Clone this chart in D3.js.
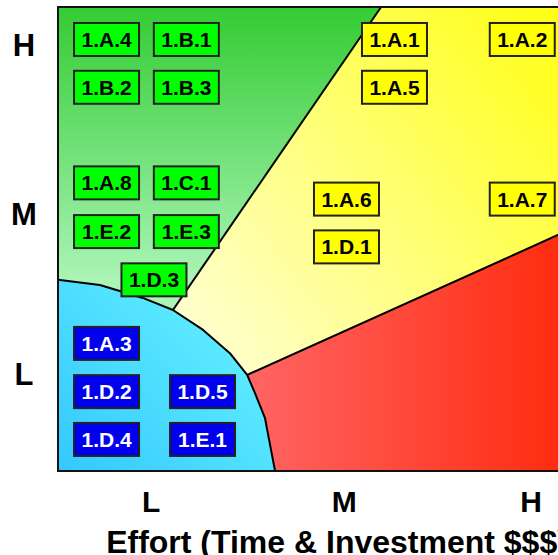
<!DOCTYPE html>
<html>
<head>
<meta charset="utf-8">
<script src="https://cdn.jsdelivr.net/npm/d3@7"></script>
<style>
  html, body { margin: 0; padding: 0; background: #fff; }
  svg { display: block; }
  text { font-family: "Liberation Sans", Arial, sans-serif; font-weight: bold; }
</style>
</head>
<body>
<svg id="chart" width="558" height="555"></svg>
<script>
// Axis categories and where they sit on the 0-100 effort / impact scales
const xTickLabels = ["L", "M", "H"];
const xTickValues = [16.7, 51.3, 84.8];
const yTickLabels = ["H", "M", "L"];
const yTickValues = [91.9, 55.4, 21.0];
const xTitle = "Effort (Time & Investment $$$)";

// Items in the "quick win" (green) zone
const greenItems = [
  { id: "1.A.4", effort: 8.7,  impact: 93.0 },
  { id: "1.B.1", effort: 23.0, impact: 93.0 },
  { id: "1.B.2", effort: 8.7,  impact: 82.7 },
  { id: "1.B.3", effort: 23.0, impact: 82.7 },
  { id: "1.A.8", effort: 8.7,  impact: 62.1 },
  { id: "1.C.1", effort: 23.0, impact: 62.1 },
  { id: "1.E.2", effort: 8.7,  impact: 51.6 },
  { id: "1.E.3", effort: 23.0, impact: 51.6 },
  { id: "1.D.3", effort: 17.2, impact: 41.2 }
];
// Items in the "major project" (yellow) zone
const yellowItems = [
  { id: "1.A.1", effort: 60.3, impact: 93.0 },
  { id: "1.A.2", effort: 83.2, impact: 93.0 },
  { id: "1.A.5", effort: 60.3, impact: 82.7 },
  { id: "1.A.6", effort: 51.7, impact: 58.6 },
  { id: "1.A.7", effort: 83.2, impact: 58.6 },
  { id: "1.D.1", effort: 51.7, impact: 48.3 }
];
// Items in the "fill-in" (blue) zone
const blueItems = [
  { id: "1.A.3", effort: 8.7,  impact: 27.5 },
  { id: "1.D.2", effort: 8.7,  impact: 17.1 },
  { id: "1.D.4", effort: 8.7,  impact: 6.8 },
  { id: "1.D.5", effort: 25.9, impact: 17.1 },
  { id: "1.E.1", effort: 25.9, impact: 6.8 }
];

// Zone boundaries, in [effort, impact] units
const lowZoneEdge = [[0, 41.2], [7.5, 40.1], [15.2, 37.3], [20.6, 34.7], [26.0, 30.4],
                     [30.8, 25.4], [33.9, 20.7], [35.3, 16.8], [37.1, 11.4], [37.5, 8.8], [38.9, 0]];
const greenSplit = [[57.9, 100], [20.6, 34.7]];
const redSplit = [[33.9, 20.7], [100, 56.5]];

const svg = d3.select("#chart");
const x = d3.scaleLinear().domain([0, 100]).range([58, 616]);
const y = d3.scaleLinear().domain([0, 100]).range([471, 7]);

const line = d3.line().x(d => x(d[0])).y(d => y(d[1]));

// Gradients
const defs = svg.append("defs");
function grad(id, p1, p2, stops) {
  const g = defs.append("linearGradient").attr("id", id)
    .attr("gradientUnits", "userSpaceOnUse")
    .attr("x1", x(p1[0])).attr("y1", y(p1[1]))
    .attr("x2", x(p2[0])).attr("y2", y(p2[1]));
  stops.forEach(s => g.append("stop").attr("offset", s[0]).attr("stop-color", s[1]));
}
grad("gGreen", [0, 100], [0, 41], [[0, "#33cc33"], [1, "#abf4b6"]]);
grad("gYellow", [100, 100], [25, 30], [[0, "#ffff00"], [1, "#ffffcc"]]);
grad("gCyan", [34, 38], [0, 0], [[0, "#66f2ff"], [1, "#33c8ff"]]);
grad("gRed", [33, 0], [100, 0], [[0, "#ff6666"], [1, "#ff2200"]]);

const cornerIdx = lowZoneEdge.findIndex(p => p[0] === redSplit[0][0] && p[1] === redSplit[0][1]);
const splitIdx = lowZoneEdge.findIndex(p => p[0] === greenSplit[1][0] && p[1] === greenSplit[1][1]);

// Zone polygons
const greenZone = [[0, 100], greenSplit[0], ...lowZoneEdge.slice(0, splitIdx + 1).reverse()];
const yellowZone = [greenSplit[0], [100, 100], redSplit[1], ...lowZoneEdge.slice(splitIdx, cornerIdx + 1).reverse()];
const redZone = [...lowZoneEdge.slice(cornerIdx), [100, 0], redSplit[1]];
const cyanZone = [...lowZoneEdge, [0, 0]];

const zones = [
  { pts: greenZone, fill: "url(#gGreen)" },
  { pts: yellowZone, fill: "url(#gYellow)" },
  { pts: redZone, fill: "url(#gRed)" },
  { pts: cyanZone, fill: "url(#gCyan)" }
];
svg.append("g").selectAll("path").data(zones).join("path")
  .attr("d", d => line(d.pts) + "Z")
  .attr("fill", d => d.fill)
  .attr("stroke", "none");

// Boundary lines
svg.append("g").selectAll("path").data([lowZoneEdge, greenSplit, redSplit]).join("path")
  .attr("d", d => line(d))
  .attr("fill", "none")
  .attr("stroke", "#000")
  .attr("stroke-width", 2)
  .attr("stroke-linejoin", "round");

// Plot frame
svg.append("rect")
  .attr("x", x(0)).attr("y", y(100))
  .attr("width", x(100) - x(0)).attr("height", y(0) - y(100))
  .attr("fill", "none").attr("stroke", "#111").attr("stroke-width", 2);

// Item boxes
const boxW = 65, boxH = 33;
function drawItems(items, fill, textColor) {
  const g = svg.append("g").selectAll("g").data(items).join("g")
    .attr("transform", d => `translate(${x(d.effort)},${y(d.impact)})`);
  g.append("rect")
    .attr("x", -boxW / 2).attr("y", -boxH / 2)
    .attr("width", boxW).attr("height", boxH)
    .attr("fill", fill).attr("stroke", "#222").attr("stroke-width", 2);
  g.append("text")
    .attr("text-anchor", "middle")
    .attr("dy", "0.36em")
    .attr("font-size", 21)
    .attr("fill", textColor)
    .text(d => d.id);
}
drawItems(greenItems, "#00ff00", "#000");
drawItems(yellowItems, "#ffff00", "#000");
drawItems(blueItems, "#0000ee", "#fff");

// Axes labels
svg.append("g").selectAll("text").data(xTickValues).join("text")
  .attr("x", d => x(d)).attr("y", 512)
  .attr("text-anchor", "middle").attr("font-size", 30).attr("fill", "#000")
  .text((d, i) => xTickLabels[i]);

svg.append("g").selectAll("text").data(yTickValues).join("text")
  .attr("x", 24).attr("y", d => y(d)).attr("dy", "0.36em")
  .attr("text-anchor", "middle").attr("font-size", 31).attr("fill", "#000")
  .text((d, i) => yTickLabels[i]);

svg.append("text")
  .attr("x", x(50)).attr("y", 553)
  .attr("text-anchor", "middle").attr("font-size", 32).attr("fill", "#000")
  .text(xTitle);
</script>
</body>
</html>
